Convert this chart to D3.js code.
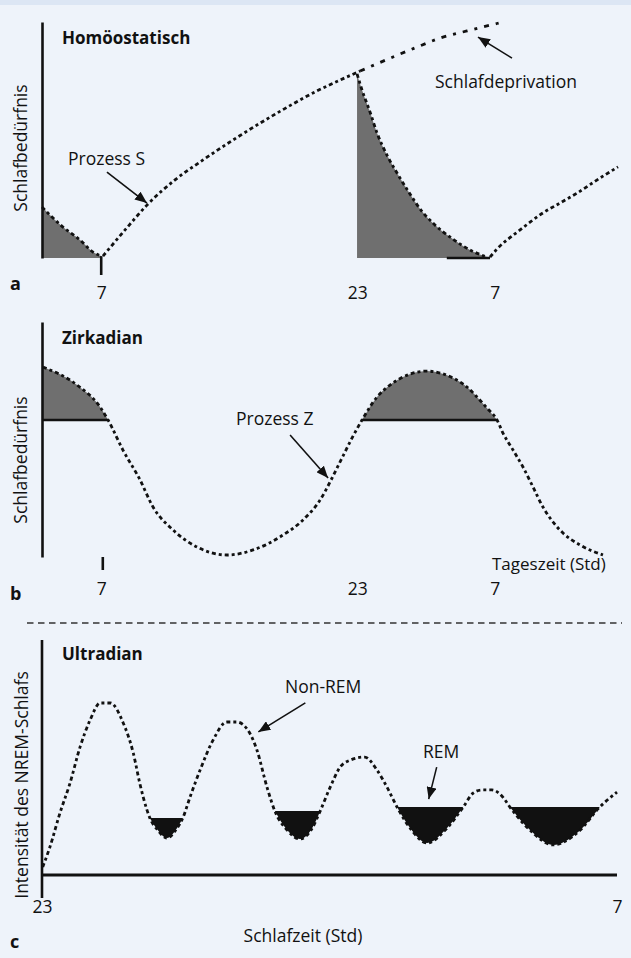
<!DOCTYPE html>
<html>
<head>
<meta charset="utf-8">
<script src="https://cdn.jsdelivr.net/npm/d3@7"></script>
<style>
  html, body { margin: 0; padding: 0; background: #eef3fa; }
  svg { display: block; }
  text { font-family: "Open Sans", "Noto Sans", sans-serif; fill: #111; }
</style>
</head>
<body>
<svg id="chart" width="631" height="958"></svg>
<script>
// ---------------- DATA ----------------
// Panel a (homeostatic, Process S): [hour, sleep pressure 0-100]
const sleepDecay1 = [[3.30,21.6],[4.61,13.1],[5.68,7.6],[6.49,2.5],[6.99,0.8]];
const wakeRise1 = [[7.11,0.8],[8.49,11.9],[9.93,22.9],[11.61,33.1],[13.18,40.7],[15.24,50.0],[17.99,61.4],[20.49,70.8],[21.93,75.4],[23.18,79.2]];
const deprivation = [[23.18,79.2],[24.93,84.3],[26.61,89.0],[28.36,93.6],[29.86,96.2],[32.11,100]];
const sleepDecay2 = [[22.99,78.0],[23.30,71.2],[23.80,61.9],[24.24,53.0],[24.86,43.6],[25.49,36.0],[26.30,27.1],[26.93,20.8],[27.86,14.0],[28.80,8.9],[30.05,3.4],[31.11,0.4]];
const wakeRise2 = [[31.30,0.4],[31.74,3.8],[33.18,11.9],[34.61,19.1],[35.68,23.3],[36.74,27.5],[38.18,33.9],[39.30,38.6]];
const sleepBaseA = [[28.6,0],[31.3,0]];

// Panel b (circadian, Process Z): [hour, level relative to threshold]
const circadian = [[3.36,39.8],[5.49,26.3],[6.93,9.8],[7.43,0],[8.36,-22.6],[9.43,-45.1],[10.24,-65.4],[11.49,-82.7],[12.99,-95.5],[14.86,-101.5],[16.49,-97.7],[18.36,-86.5],[19.74,-73.7],[20.68,-60.2],[21.43,-43.6],[22.11,-27.1],[22.68,-13.5],[23.30,0],[24.24,17.3],[25.05,26.3],[25.86,32.3],[27.36,36.8],[28.18,35.3],[28.99,31.6],[29.86,24.8],[30.49,17.3],[31.11,9.0],[31.74,0],[32.11,-9.8],[32.74,-22.6],[33.36,-35.3],[33.99,-50.4],[34.61,-65.4],[35.24,-76.7],[35.86,-85.0],[36.93,-94.0],[38.36,-101.5]];
const circadianHigh = [[3.36,7.43],[23.30,31.74]];

// Panel c (ultradian): [hour of night, NREM intensity]
const ultradian = [[23.01,3.4],[23.11,11.9],[23.25,26.4],[23.39,39.1],[23.53,54.5],[23.67,66.0],[23.81,73.2],[23.95,73.2],[24.13,64.7],[24.27,51.9],[24.36,39.1],[24.46,27.7],[24.50,24.3],[24.61,19.1],[24.74,15.7],[24.86,19.1],[24.96,24.3],[25.06,33.2],[25.20,44.7],[25.38,57.4],[25.57,65.1],[25.71,65.1],[25.89,60.4],[25.99,53.2],[26.13,37.4],[26.24,27.2],[26.41,19.1],[26.59,15.3],[26.76,20.0],[26.87,27.2],[27.01,37.4],[27.15,46.0],[27.29,48.9],[27.49,50.2],[27.66,44.7],[27.80,37.4],[27.94,28.9],[28.12,20.0],[28.36,13.6],[28.61,19.1],[28.86,28.9],[29.00,34.9],[29.12,36.2],[29.26,36.2],[29.41,33.2],[29.51,28.9],[29.79,19.1],[30.11,12.8],[30.46,18.3],[30.76,28.9],[31.00,35.3]];
const remStart = [24.50, 26.24, 27.94, 29.51];
const remEnd   = [24.96, 26.87, 28.86, 30.76];
const remLevel = [24.3, 27.2, 28.9, 28.9];

// Tick labels
const ticksAB = [7, 23, 31.6];
const tickLabelsAB = ["7", "23", "7"];
const ticksC = [23, 31];
const tickLabelsC = ["23", "7"];

// ---------------- DRAW ----------------
const svg = d3.select("#chart");
const INK = "#111";
const GREY = "#6f6f6f";
const DOT = "4,3,3,3";

svg.append("rect").attr("width", 631).attr("height", 958).attr("fill", "#eef3fa");
svg.append("rect").attr("width", 631).attr("height", 5).attr("fill", "#dce6f4");

const defs = svg.append("defs");
defs.append("marker").attr("id", "arrow")
  .attr("viewBox", "0 0 12 10").attr("refX", 12).attr("refY", 5)
  .attr("markerWidth", 12).attr("markerHeight", 10)
  .attr("markerUnits", "userSpaceOnUse").attr("orient", "auto")
  .append("path").attr("d", "M0,0 L12,5 L0,10 Z").attr("fill", INK);

const xAB = d3.scaleLinear().domain([3.3, 39.3]).range([42, 618]);
const yA = d3.scaleLinear().domain([0, 100]).range([258, 22]);
const yB = d3.scaleLinear().domain([-103, 73.7]).range([557, 322]);
const xC = d3.scaleLinear().domain([23, 31]).range([42, 617]);
const yC = d3.scaleLinear().domain([0, 100]).range([875, 640]);

function dotted(g, data, x, y, dash) {
  g.append("path").datum(data)
    .attr("d", d3.line().x(d => x(d[0])).y(d => y(d[1])).curve(d3.curveMonotoneX))
    .attr("fill", "none").attr("stroke", INK).attr("stroke-width", 2.8)
    .attr("stroke-dasharray", dash || DOT);
}
function areaTo(g, data, x, y, base, color) {
  g.append("path").datum(data)
    .attr("d", d3.area().x(d => x(d[0])).y0(y(base)).y1(d => y(d[1])).curve(d3.curveMonotoneX))
    .attr("fill", color);
}
function label(g, x, y, txt, opts) {
  const t = g.append("text").attr("x", x).attr("y", y).text(txt)
    .attr("font-size", (opts && opts.size) || 17.5);
  if (opts && opts.bold) t.attr("font-weight", "bold");
  if (opts && opts.anchor) t.attr("text-anchor", opts.anchor);
  return t;
}
function arrow(g, x1, y1, x2, y2) {
  g.append("line").attr("x1", x1).attr("y1", y1).attr("x2", x2).attr("y2", y2)
    .attr("stroke", INK).attr("stroke-width", 1.6).attr("marker-end", "url(#arrow)");
}
function ylabel(g, x, y, txt) {
  g.append("text").attr("transform", `translate(${x},${y}) rotate(-90)`)
    .attr("text-anchor", "middle").attr("font-size", 17.5).text(txt);
}
function xTicks(g, scale, vals, labels, yBase) {
  const ax = d3.axisBottom(scale).tickValues(vals)
    .tickFormat((d, i) => labels[i]).tickSize(0).tickPadding(0);
  const a = g.append("g").call(ax);
  a.select(".domain").remove();
  a.selectAll("text").attr("y", yBase).attr("dy", 0)
    .attr("font-size", 17.5).attr("fill", INK)
    .attr("font-family", "'Open Sans', 'Noto Sans', sans-serif");
}
function yAxisLine(g, scale, x) {
  const ax = d3.axisLeft(scale).tickValues([]).tickSizeOuter(0);
  const a = g.append("g").attr("transform", `translate(${x},0)`).call(ax);
  a.select(".domain").attr("stroke", INK).attr("stroke-width", 2.6);
}

// ----- Panel a -----
const gA = svg.append("g");
areaTo(gA, sleepDecay1, xAB, yA, 0, GREY);
areaTo(gA, sleepDecay2, xAB, yA, 0, GREY);
gA.append("path").datum(sleepBaseA)
  .attr("d", d3.line().x(d => xAB(d[0])).y(d => yA(d[1])))
  .attr("stroke", INK).attr("stroke-width", 2.4);
dotted(gA, sleepDecay1, xAB, yA);
dotted(gA, wakeRise1, xAB, yA);
dotted(gA, deprivation, xAB, yA, "5,7,3,7");
dotted(gA, sleepDecay2, xAB, yA);
dotted(gA, wakeRise2, xAB, yA);
yAxisLine(gA, yA, 42);
gA.append("line").attr("x1", xAB(7)).attr("x2", xAB(7)).attr("y1", yA(0.8)).attr("y2", 275)
  .attr("stroke", INK).attr("stroke-width", 2.6);
xTicks(gA, xAB, ticksAB, tickLabelsAB, 299);
label(gA, 62, 44, "Homöostatisch", {bold: true, size: 17});
ylabel(gA, 27, 148, "Schlafbedürfnis");
label(gA, 10, 290, "a", {bold: true, size: 18});
label(gA, 68, 165, "Prozess S");
arrow(gA, xAB(9.86) - 40, yA(23.3) - 31, xAB(9.86), yA(23.3));
label(gA, 435, 88, "Schlafdeprivation");
arrow(gA, xAB(30.55) + 34, yA(93.6) + 21, xAB(30.55), yA(93.6));

// ----- Panel b -----
const gB = svg.append("g");
circadianHigh.forEach(([s, e]) => {
  const seg = circadian.filter(d => d[0] >= s && d[0] <= e);
  areaTo(gB, seg, xAB, yB, 0, GREY);
  gB.append("line").attr("x1", xAB(s < 4 ? 3.3 : s)).attr("x2", xAB(e))
    .attr("y1", yB(0)).attr("y2", yB(0)).attr("stroke", INK).attr("stroke-width", 2.6);
});
dotted(gB, circadian, xAB, yB);
yAxisLine(gB, yB, 42);
gB.append("line").attr("x1", xAB(7.1)).attr("x2", xAB(7.1)).attr("y1", 557).attr("y2", 570)
  .attr("stroke", INK).attr("stroke-width", 2.6);
xTicks(gB, xAB, ticksAB, tickLabelsAB, 595);
label(gB, 62, 344, "Zirkadian", {bold: true, size: 17});
ylabel(gB, 27, 460, "Schlafbedürfnis");
label(gB, 10, 600, "b", {bold: true, size: 18});
label(gB, 236, 425, "Prozess Z");
arrow(gB, xAB(21.18) - 38, yB(-43.6) - 43, xAB(21.18), yB(-43.6));
label(gB, 492, 570, "Tageszeit (Std)", {size: 17});

// separator
svg.append("line").attr("x1", 27).attr("x2", 622).attr("y1", 623).attr("y2", 623)
  .attr("stroke", "#333").attr("stroke-width", 1.3).attr("stroke-dasharray", "6.5,4.5");

// ----- Panel c -----
const gC = svg.append("g");
remStart.forEach((s, i) => {
  const seg = ultradian.filter(d => d[0] >= s && d[0] <= remEnd[i]);
  areaTo(gC, seg, xC, yC, remLevel[i], INK);
});
dotted(gC, ultradian, xC, yC);
gC.append("line").attr("x1", xC(23)).attr("x2", xC(31)).attr("y1", yC(0)).attr("y2", yC(0))
  .attr("stroke", INK).attr("stroke-width", 3);
gC.append("line").attr("x1", xC(23)).attr("x2", xC(23)).attr("y1", yC(-9.8)).attr("y2", yC(100))
  .attr("stroke", INK).attr("stroke-width", 2.6);
xTicks(gC, xC, ticksC, tickLabelsC, 913);
label(gC, 62, 660, "Ultradian", {bold: true, size: 17});
ylabel(gC, 28, 785, "Intensität des NREM-Schlafs");
label(gC, 10, 948, "c", {bold: true, size: 18});
label(gC, 303, 942, "Schlafzeit (Std)", {anchor: "middle"});
label(gC, 285, 693, "Non-REM");
arrow(gC, xC(26.01) + 47, yC(60.9) - 29, xC(26.01), yC(60.9));
label(gC, 423, 758, "REM");
arrow(gC, xC(28.38) + 8, yC(32.3) - 32, xC(28.38), yC(32.3));
</script>
</body>
</html>
